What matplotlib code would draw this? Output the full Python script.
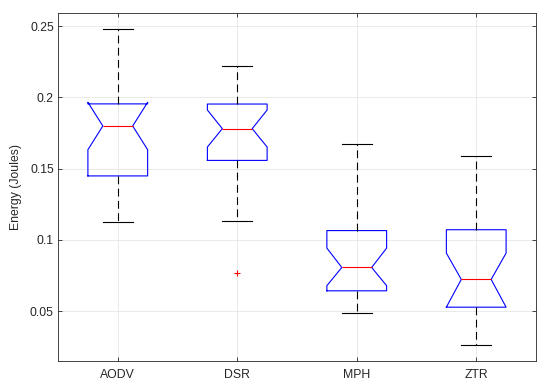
import matplotlib
matplotlib.use('Agg')
import matplotlib.pyplot as plt

plt.rcParams['font.family'] = ['Liberation Sans', 'DejaVu Sans']

# values
protocols = ['AODV', 'DSR', 'MPH', 'ZTR']
whisker_lo = [0.1128, 0.1133, 0.0486, 0.0262]
q1 = [0.1449, 0.1558, 0.0642, 0.0527]
median = [0.1800, 0.1781, 0.0806, 0.0722]
q3 = [0.1955, 0.1954, 0.1065, 0.1071]
whisker_hi = [0.2483, 0.2224, 0.1673, 0.1588]
notch_lo = [0.1633, 0.1652, 0.0678, 0.0527]
notch_hi = [0.1966, 0.1912, 0.0942, 0.0907]
outliers = [[], [0.0766], [], []]

stats = []
for i, name in enumerate(protocols):
    stats.append(dict(label=name, whislo=whisker_lo[i], q1=q1[i], med=median[i],
                      q3=q3[i], whishi=whisker_hi[i], cilo=notch_lo[i],
                      cihi=notch_hi[i], fliers=outliers[i]))

fig = plt.figure(figsize=(5.5, 3.88), dpi=100)
ax = fig.add_axes([0.1055, 0.0696, 0.869, 0.896])

ax.bxp(stats, widths=0.5, capwidths=0.25, shownotches=True,
       boxprops=dict(color='#0000ff', linewidth=0.8),
       medianprops=dict(color='#ff0000', linewidth=0.8),
       whiskerprops=dict(color='black', linewidth=0.8, dashes=(7, 4)),
       capprops=dict(color='black', linewidth=0.8),
       flierprops=dict(marker='+', markeredgecolor='#ff0000', markersize=5,
                       markeredgewidth=0.8, linestyle='none'))

ax.set_xlim(0.5, 4.5)
ax.set_ylim(0.0149, 0.2591)
ax.set_yticks([0.05, 0.1, 0.15, 0.2, 0.25])
ax.set_yticklabels(['0.05', '0.1', '0.15', '0.2', '0.25'])
ax.set_ylabel('Energy (Joules)', fontsize=8.8, color='#262626', labelpad=6)

ax.grid(True, color='#e6e6e6', linewidth=0.6)
ax.set_axisbelow(True)
ax.tick_params(direction='in', top=True, right=True, length=3, width=0.6,
               labelsize=8.8, colors='#262626')
ax.tick_params(axis='x', pad=6)
ax.tick_params(axis='y', pad=3)
for s in ax.spines.values():
    s.set_color('#262626')
    s.set_linewidth(0.6)

fig.savefig('out.png', dpi=100)
